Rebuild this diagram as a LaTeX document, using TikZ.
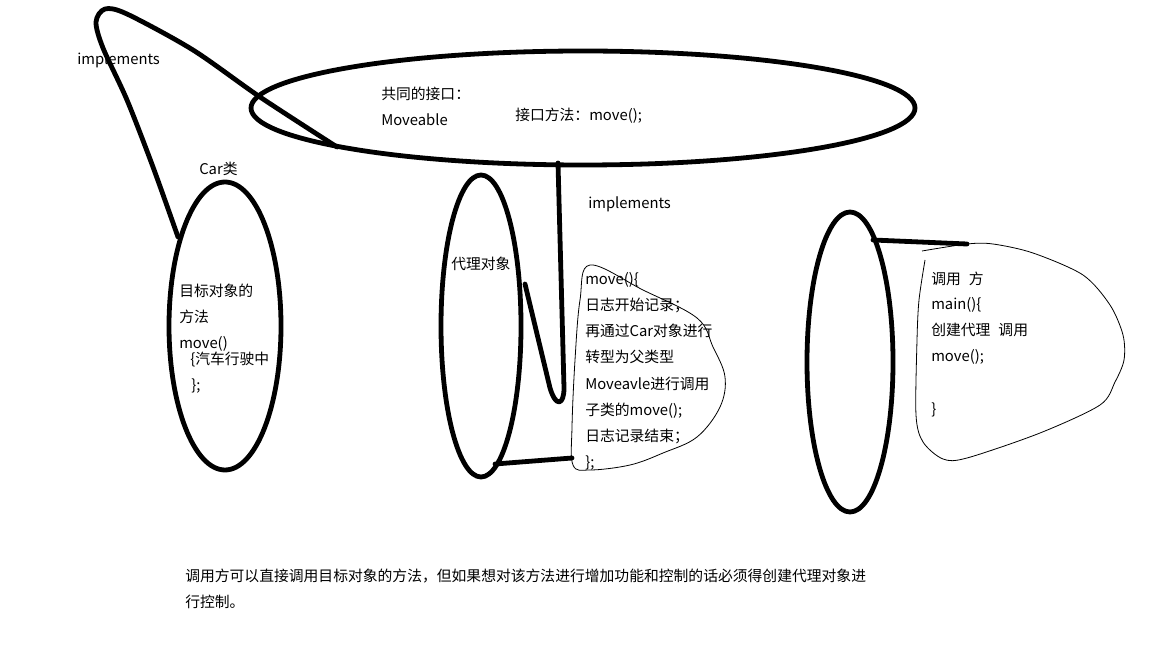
\documentclass[tikz,border=0pt]{standalone}
\usepackage{fontspec}
\setmainfont{Noto Sans CJK SC}
\begin{document}
\begin{tikzpicture}[x=0.75pt,y=-0.75pt,
  thickline/.style={line width=3.6pt, line cap=round, line join=round},
  thinline/.style={line width=0.6pt, line join=round},
  txt/.style={anchor=base west, inner sep=0pt, font=\fontsize{11.1pt}{13pt}\selectfont}]
\useasboundingbox[fill=white] (0,0) rectangle (1152,648);

% ellipses
\draw[thickline] (583,108) ellipse [x radius=249pt, y radius=42.75pt];
\draw[thickline] (225,326) ellipse [x radius=42pt, y radius=108pt];
\draw[thickline] (481,326) ellipse [x radius=30pt, y radius=113.25pt];
\draw[thickline] (850,362) ellipse [x radius=32.25pt, y radius=112.5pt];

% implements loop from Car to interface
\draw[thickline] plot[smooth, tension=0.5] coordinates {(178,237) (153,167) (127,100) (103,48) (96,22) (105,9) (127,14) (193,50) (260,97) (337,147)};

% implements from interface to proxy
\draw[thickline] (558,163) -- (564,388) .. controls (564,405) and (556,408) .. (550,388) -- (525,284);

% connectors to code blobs
\draw[thickline] (495,464) -- (572,458);
\draw[thickline] (873,240) -- (967,244);

% code blobs
\draw[thinline] plot[smooth cycle, tension=0.6] coordinates {(590,265) (643,290) (697,318) (713,347) (725,377) (720,407) (697,437) (663,453) (630,465) (590,470) (573,465) (572,427) (575,360) (580,300)};
\draw[thinline] plot[smooth, tension=0.5] coordinates {(922,251) (967,244) (993,244) (1033,253) (1083,275) (1110,305) (1123,335) (1124,360) (1115,382) (1100,405) (1040,433) (967,458) (943,459) (923,442) (916,415) (917,340) (919,300) (925,260)};

% texts
\node[txt] (impl1) at (77,65) {implements};
\node[txt] (iface1) at (381,100) {共同的接口：};
\node[txt] (iface2) at (381,126) {Moveable};
\node[txt] (iface3) at (515,121) {接口方法：move();};
\node[txt] (car) at (199,175) {Car类};
\node[txt] (t1) at (179,297) {目标对象的};
\node[txt] (t2) at (179,323) {方法};
\node[txt] (t3) at (179,349) {move()};
\node[txt] (t4) at (190,364) {\{汽车行驶中};
\node[txt] (t5) at (191,390) {\};};
\node[txt] (proxy) at (451,270) {代理对象};
\node[txt] (impl2) at (588,209) {implements};
\node[txt] (p1) at (585,285) {move()\{};
\node[txt] (p2) at (585,311) {日志开始记录；};
\node[txt] (p3) at (585,337) {再通过Car对象进行};
\node[txt] (p4) at (585,363) {转型为父类型};
\node[txt] (p5) at (585,389) {Moveavle进行调用};
\node[txt] (p6) at (585,415) {子类的move();};
\node[txt] (p7) at (585,441) {日志记录结束；};
\node[txt] (p8) at (585,467) {\};};
\node[txt] (c1) at (931,285) {调用\hspace{6pt}方};
\node[txt] (c2) at (931,310) {main()\{};
\node[txt] (c3) at (931,335) {创建代理\hspace{6pt}调用};
\node[txt] (c4) at (931,361) {move();};
\node[txt] (c5) at (931,414) {\}};
\node[txt] (b1) at (185,581) {调用方可以直接调用目标对象的方法，但如果想对该方法进行增加功能和控制的话必须得创建代理对象进};
\node[txt] (b2) at (185,607) {行控制。};
\end{tikzpicture}
\end{document}
